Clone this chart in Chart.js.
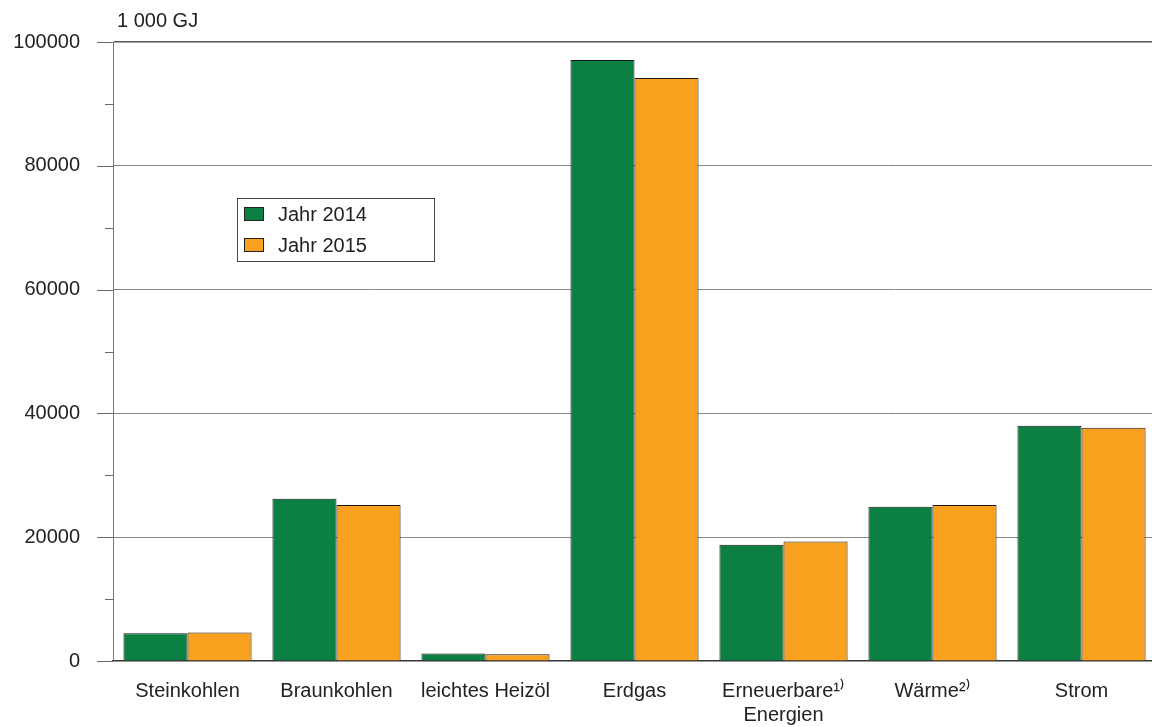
<!DOCTYPE html>
<html>
<head>
<meta charset="utf-8">
<script src="https://cdn.jsdelivr.net/npm/chart.js@4/dist/chart.umd.min.js"></script>
<style>
html,body{margin:0;padding:0;background:#fff;overflow:hidden;width:1152px;height:727px;}
#wrap{position:absolute;left:0;top:0;width:1157px;height:727px;}
</style>
</head>
<body>
<div id="wrap"><canvas id="c" width="1157" height="727"></canvas></div>
<script>
const categories = ["Steinkohlen", "Braunkohlen", "leichtes Heizöl", "Erdgas", ["Erneuerbare\u00B9\u207E", "Energien"], "Wärme\u00B2\u207E", "Strom"];
const series2014 = [4500, 26200, 1200, 97100, 18800, 24900, 38000];
const series2015 = [4600, 25200, 1100, 94200, 19300, 25200, 37700];
const seriesNames = ["Jahr 2014", "Jahr 2015"];
const unitLabel = "1 000 GJ";
const yMin = 0, yMax = 100000, yMinorStep = 10000, yMajorStep = 20000;

const FONT = "'Liberation Sans', Arial, sans-serif";
const FS = 20;
const GREEN = "#0C8043";
const ORANGE = "#F9A11E";

const extras = {
  id: 'extras',
  afterDraw(chart) {
    const ctx = chart.ctx;
    const y = chart.scales.y;
    const area = chart.chartArea;
    ctx.save();
    ctx.strokeStyle = '#666';
    ctx.lineWidth = 1;
    for (let v = yMin; v <= yMax; v += yMinorStep) {
      const py = Math.round(y.getPixelForValue(v)) + 0.5;
      const len = (v % yMajorStep === 0) ? 16 : 8;
      ctx.beginPath();
      ctx.moveTo(area.left - len, py);
      ctx.lineTo(area.left, py);
      ctx.stroke();
    }
    ctx.fillStyle = '#222';
    ctx.font = FS + 'px ' + FONT;
    ctx.textBaseline = 'middle';
    ctx.textAlign = 'left';
    ctx.fillText(unitLabel, 117, 21);
    const lx = 237.5, ly = 198.5, lw = 197, lh = 63;
    ctx.strokeStyle = '#444';
    ctx.fillStyle = '#fff';
    ctx.fillRect(lx, ly, lw, lh);
    ctx.strokeRect(lx, ly, lw, lh);
    const colors = [GREEN, ORANGE];
    const rows = [214, 245];
    for (let i = 0; i < 2; i++) {
      ctx.fillStyle = colors[i];
      ctx.fillRect(244.5, rows[i] - 6.5, 19, 13);
      ctx.strokeStyle = '#222';
      ctx.strokeRect(244.5, rows[i] - 6.5, 19, 13);
      ctx.fillStyle = '#222';
      ctx.fillText(seriesNames[i], 278, rows[i] + 1);
    }
    ctx.restore();
  }
};

new Chart(document.getElementById('c'), {
  type: 'bar',
  data: {
    labels: categories,
    datasets: [
      { label: seriesNames[0], data: series2014, backgroundColor: GREEN, borderColor: '#1a1a1a', borderWidth: 1, borderSkipped: 'bottom' },
      { label: seriesNames[1], data: series2015, backgroundColor: ORANGE, borderColor: '#1a1a1a', borderWidth: 1, borderSkipped: 'bottom' }
    ]
  },
  options: {
    responsive: false,
    animation: false,
    devicePixelRatio: 1,
    layout: { padding: { top: 42, right: 1, left: 0, bottom: 0 } },
    plugins: { legend: { display: false }, tooltip: { enabled: false } },
    datasets: { bar: { categoryPercentage: 0.86, barPercentage: 1.0 } },
    scales: {
      x: {
        offset: true,
        grid: { display: false, drawTicks: false },
        border: { display: true, color: '#333', width: 1.5 },
        ticks: { color: '#222', font: { family: FONT, size: FS, lineHeight: 1.2 }, padding: 18, maxRotation: 0, autoSkip: false },
        afterFit(s) { s.height = 66; s.paddingTop = 0; s.paddingBottom = 0; s.paddingLeft = 0; s.paddingRight = 0; }
      },
      y: {
        min: yMin, max: yMax,
        grid: {
          drawTicks: false,
          color: (c) => (c.tick && c.tick.value % yMajorStep === 0 && c.tick.value !== 0) ? (c.tick.value === yMax ? '#555' : '#888') : 'rgba(0,0,0,0)',
          lineWidth: (c) => (c.tick && c.tick.value === yMax) ? 1.5 : 1
        },
        border: { display: true, color: '#777', width: 1 },
        ticks: {
          stepSize: yMinorStep,
          color: '#222',
          font: { family: FONT, size: FS },
          padding: 33,
          callback: (v) => (v % yMajorStep === 0) ? String(v) : ''
        },
        afterFit(s) { s.width = 113; s.paddingTop = 0; s.paddingBottom = 0; }
      }
    }
  },
  plugins: [extras]
});
</script>
</body>
</html>
